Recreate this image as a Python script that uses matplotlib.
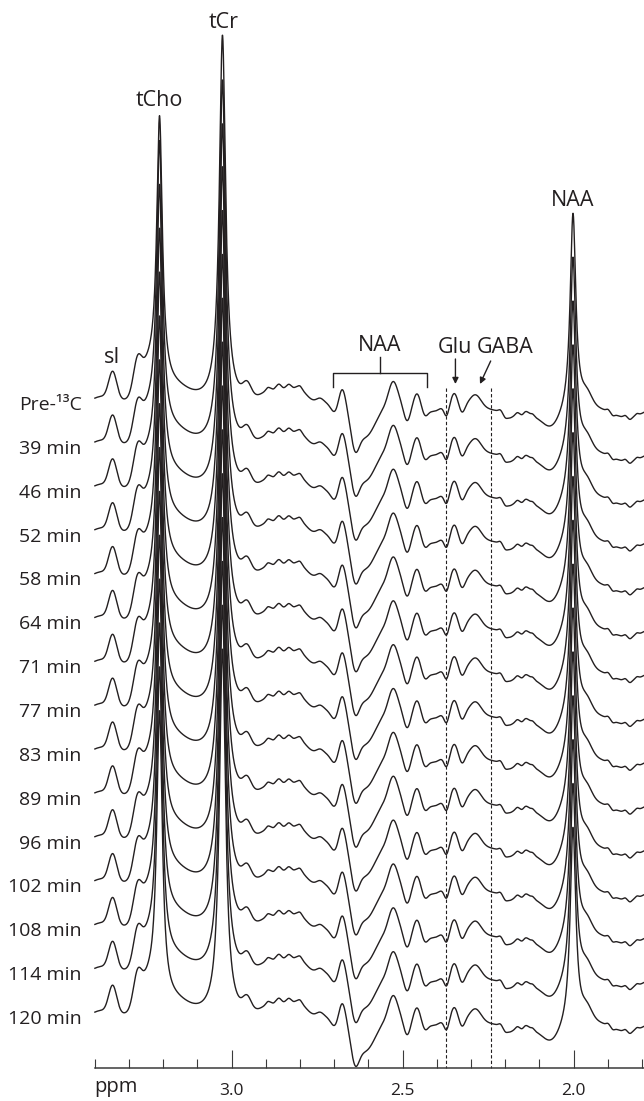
import numpy as np
import matplotlib
matplotlib.use('Agg')
import matplotlib.pyplot as plt

plt.rcParams['font.family'] = ['Open Sans', 'DejaVu Sans']

# ---------------- data ----------------
labels = ['Pre-¹³C', '39 min', '46 min', '52 min', '58 min', '64 min', '71 min',
          '77 min', '83 min', '89 min', '96 min', '102 min', '108 min', '114 min', '120 min']

# sharp singlets (Lorentzian): tCho, tCr, NAA
singlet_ppm = [3.211, 3.027, 2.002]
singlet_fwhm = [0.020, 0.022, 0.020]
tcho_height = [269, 288, 288, 288, 288, 288, 288, 288, 288, 288, 288, 288, 288, 288, 288]
tcr_height = [367, 366, 366, 367, 367, 367, 367, 367, 367, 367, 367, 367, 367, 367, 367]
naa_height = [200, 200, 200, 200, 200, 200, 200, 200, 200, 200, 200, 200, 200, 200, 200]

# other spectral features (Gaussian components)
comp_ppm = [3.385, 3.348, 3.276, 3.245, 3.175, 2.955, 2.875, 2.840, 2.805, 2.742,
            2.698, 2.677, 2.640, 2.610, 2.528, 2.487, 2.458, 2.435, 2.410, 2.372,
            2.349, 2.326, 2.287, 2.190, 2.140, 2.100, 2.065, 1.962, 1.840]
comp_amp = [5, 29, 30, 25, 13, 13, 13, 5, 13, 4,
            -10, 18, -28, -34, 22, -18, 10, -9, -8, -11,
            11, -8, 12, -5, 4, -14, -14, 12, -14]
comp_sigma = [0.02, 0.012, 0.012, 0.022, 0.045, 0.012, 0.03, 0.02, 0.022, 0.01,
              0.012, 0.01, 0.012, 0.03, 0.013, 0.01, 0.009, 0.009, 0.02, 0.007,
              0.009, 0.008, 0.016, 0.012, 0.01, 0.12, 0.025, 0.015, 0.05]

# small ripples seen on the flat stretches
ripple_ppm = [2.895, 2.878, 2.862, 2.848, 2.833, 2.818, 2.800,
              2.215, 2.200, 2.165, 2.150, 2.120,
              1.900, 1.885, 1.850, 1.835, 1.815]
ripple_amp = [2, -2, 2, -1.5, 2, -1.5, 2,
              2, -2, 2, -2, 2,
              2, -2, 2, -2, 2]
ripple_sigma = 0.005

tick_major = [3.0, 2.5, 2.0]
tick_minor = [3.4, 3.3, 3.2, 3.1, 2.9, 2.8, 2.7, 2.6, 2.4, 2.3, 2.2, 2.1, 1.9, 1.8]
glu_line, gaba_line = 2.373, 2.242

# ---------------- helpers ----------------
def lorentz(x, c, a, w):
    return a / (1 + ((x - c) / (w / 2)) ** 2)

def gauss(x, c, a, s):
    return a * np.exp(-0.5 * ((x - c) / s) ** 2)

ink = '#231f20'
ppm = np.linspace(3.40, 1.79, 4000)

fig = plt.figure(figsize=(6.44, 11.01), dpi=100)
ax = fig.add_axes([0, 0, 1, 1])
XL = (3.6775, 1.7944)
ax.set_xlim(*XL)
ax.set_ylim(1101, 0)
ax.axis('off')

base0, step = 403.0, 43.86
other = sum(gauss(ppm, c, a, s) for c, a, s in zip(comp_ppm, comp_amp, comp_sigma))
other = other + sum(gauss(ppm, c, a, ripple_sigma) for c, a in zip(ripple_ppm, ripple_amp))
for i, lab in enumerate(labels):
    heights = [tcho_height[i], tcr_height[i], naa_height[i]]
    spec = other.copy()
    for c, a, w in zip(singlet_ppm, heights, singlet_fwhm):
        spec = spec + lorentz(ppm, c, a, w)
    base = base0 + i * step
    ax.plot(ppm, base - spec, color=ink, lw=1.0, solid_joinstyle='round', zorder=3)
    ax.text(3.4386, base + 7, lab, ha='right', va='baseline', fontsize=14, color=ink)

# dashed reference lines
for p in (glu_line, gaba_line):
    ax.plot([p, p], [388, 1068], color=ink, lw=0.8, ls=(0, (3, 2)), zorder=2)

# peak labels
lab_fs = 15.5
ax.text(3.3485, 363, 'sI', ha='center', va='baseline', fontsize=lab_fs, color=ink)
ax.text(3.2105, 106.5, 'tCho', ha='center', va='baseline', fontsize=lab_fs, color=ink)
ax.text(3.024, 28, 'tCr', ha='center', va='baseline', fontsize=lab_fs, color=ink)
ax.text(2.002, 206, 'NAA', ha='center', va='baseline', fontsize=lab_fs, color=ink)
ax.text(2.5664, 351, 'NAA', ha='center', va='baseline', fontsize=lab_fs, color=ink)
ax.text(2.347, 353, 'Glu', ha='center', va='baseline', fontsize=lab_fs, color=ink)
ax.text(2.200, 353, 'GABA', ha='center', va='baseline', fontsize=lab_fs, color=ink)

# NAA bracket
ax.plot([2.704, 2.704, 2.430, 2.430], [387, 373, 373, 387], color=ink, lw=1.0)
ax.plot([2.5664, 2.5664], [357, 373], color=ink, lw=1.0)

# arrows
ap = dict(arrowstyle='-|>', color=ink, lw=1.0, mutation_scale=9, shrinkA=0, shrinkB=0)
ax.annotate('', xy=(2.3458, 384), xytext=(2.3458, 359), arrowprops=ap)
ax.annotate('', xy=(2.274, 384), xytext=(2.2427, 361), arrowprops=ap)

# ppm axis
ax2 = fig.add_axes([0, (1101 - 1068) / 1101, 1, 0.01])
ax2.set_xlim(*XL)
ax2.patch.set_visible(False)
for s in ('top', 'left', 'right'):
    ax2.spines[s].set_visible(False)
ax2.spines['bottom'].set_bounds(3.4, 1.7944)
ax2.spines['bottom'].set_color('#3a3a3a')
ax2.spines['bottom'].set_linewidth(1.1)
ax2.set_yticks([])
ax2.set_xticks(tick_major)
ax2.set_xticklabels([f'{t:.1f}' for t in tick_major])
ax2.set_xticks(tick_minor, minor=True)
ax2.tick_params(axis='x', which='major', direction='in', length=13, width=0.8,
                colors='#3a3a3a', labelcolor=ink, labelsize=12.5, pad=11)
ax2.tick_params(axis='x', which='minor', direction='in', length=6.5, width=0.8,
                colors='#3a3a3a')
ax.text(3.402, 1092, 'ppm', ha='left', va='baseline', fontsize=14.5, color=ink)

fig.savefig('out.png', dpi=100)
